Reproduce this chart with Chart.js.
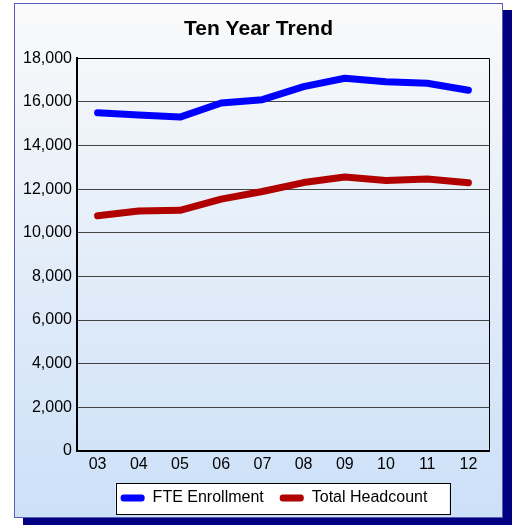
<!DOCTYPE html>
<html>
<head>
<meta charset="utf-8">
<script src="https://cdn.jsdelivr.net/npm/chart.js@4.4.0/dist/chart.umd.min.js"></script>
<style>
	html, body { margin: 0; padding: 0; background: #ffffff; }
	#frame {
		position: absolute; left: 14px; top: 3px; width: 487px; height: 513px;
		border: 1px solid #5a5ab8;
		box-shadow: 9px 7px 0 #000080;
		background: linear-gradient(to bottom, #fafafa 0%, #cce0f8 100%);
	}
	#wrap { position: absolute; left: 0; top: 0; width: 514px; height: 525px; }
</style>
</head>
<body>
<div id="frame"></div>
<div id="wrap"><canvas id="chartcanvas" width="514" height="525"></canvas></div>
<script>
var years = ["03", "04", "05", "06", "07", "08", "09", "10", "11", "12"];
var fte = [15500, 15400, 15300, 15950, 16100, 16700, 17080, 16920, 16850, 16530];
var headcount = [10780, 11000, 11030, 11540, 11890, 12300, 12560, 12400, 12460, 12290];
var yTicks = [0, 2000, 4000, 6000, 8000, 10000, 12000, 14000, 16000, 18000];

var fontFamily = "'Liberation Sans', Arial, sans-serif";

// white legend box, thin frame round the plot, title and legend nudged
var frames = {
	id: 'frames',
	afterLayout: function(chart) {
		var lg = chart.legend;
		if (lg) { lg.left -= 9; lg.right -= 9; }
		var tb = chart.titleBlock;
		if (tb) { tb.left += 14; tb.right += 14; }
	},
	beforeDraw: function(chart) {
		var lg = chart.legend;
		var boxes = lg && lg.legendHitBoxes;
		if (!boxes || !boxes.length) return;
		var ctx = chart.ctx;
		var left = boxes[0].left - 5;
		var last = boxes[boxes.length - 1];
		var right = last.left + last.width + 22;
		ctx.save();
		ctx.fillStyle = "#ffffff";
		ctx.fillRect(left, 483, right - left, 31);
		ctx.strokeStyle = "#000000";
		ctx.lineWidth = 1;
		ctx.strokeRect(Math.round(left) + 0.5, 483.5, Math.round(right - left), 31);
		ctx.restore();
	},
	beforeDatasetsDraw: function(chart) {
		var a = chart.chartArea;
		var ctx = chart.ctx;
		ctx.save();
		ctx.strokeStyle = "#000000";
		ctx.lineWidth = 1;
		ctx.beginPath();
		ctx.moveTo(a.left, Math.round(a.top) + 0.5);
		ctx.lineTo(Math.round(a.right) + 0.5, Math.round(a.top) + 0.5);
		ctx.lineTo(Math.round(a.right) + 0.5, a.bottom);
		ctx.stroke();
		ctx.restore();
	}
};

var chartdata = {
	labels: years,
	datasets: [
		{
			label: "FTE Enrollment",
			data: fte,
			borderColor: "#0000ff",
			backgroundColor: "#0000ff",
			borderWidth: 7,
			pointRadius: 0,
			tension: 0,
			borderJoinStyle: "round",
			borderCapStyle: "round"
		},
		{
			label: "Total Headcount",
			data: headcount,
			borderColor: "#b00000",
			backgroundColor: "#b00000",
			borderWidth: 7,
			pointRadius: 0,
			tension: 0,
			borderJoinStyle: "round",
			borderCapStyle: "round"
		}
	]
};

var ctx = document.getElementById("chartcanvas");

var LineGraph = new Chart(ctx, {
	type: 'line',
	data: chartdata,
	plugins: [frames],
	options: {
		responsive: false,
		animation: false,
		layout: { padding: { top: 5, left: 0, right: 25, bottom: 9 } },
		plugins: {
			title: {
				display: true,
				text: "Ten Year Trend",
				color: "#000000",
				font: { family: fontFamily, size: 21, weight: "bold" },
				padding: { top: 12, bottom: 16 }
			},
			legend: {
				position: "bottom",
				fullSize: false,
				labels: {
					color: "#000000",
					font: { family: fontFamily, size: 16 },
					boxWidth: 24,
					boxHeight: 7,
					padding: 16,
					useBorderRadius: true,
					borderRadius: 3,
					generateLabels: function(chart) {
						var items = Chart.defaults.plugins.legend.labels.generateLabels(chart);
						items.forEach(function(it) { it.lineWidth = 0; it.borderRadius = 3; });
						return items;
					}
				}
			},
			tooltip: { enabled: false }
		},
		scales: {
			x: {
				offset: true,
				grid: { display: false, drawTicks: false },
				border: { display: true, color: "#000000", width: 2 },
				ticks: { color: "#000000", font: { family: fontFamily, size: 16 }, padding: 4 },
				afterFit: function(scale) { scale.height = 23; }
			},
			y: {
				min: 0,
				max: 18000,
				afterBuildTicks: function(scale) {
					scale.ticks = yTicks.map(function(v) { return { value: v }; });
				},
				grid: { color: "#444444", lineWidth: 1, drawTicks: false },
				border: { display: true, color: "#000000", width: 2 },
				ticks: { color: "#000000", font: { family: fontFamily, size: 16 }, padding: 5 },
				afterFit: function(scale) { scale.width = 77; }
			}
		}
	}
});
</script>
</body>
</html>
